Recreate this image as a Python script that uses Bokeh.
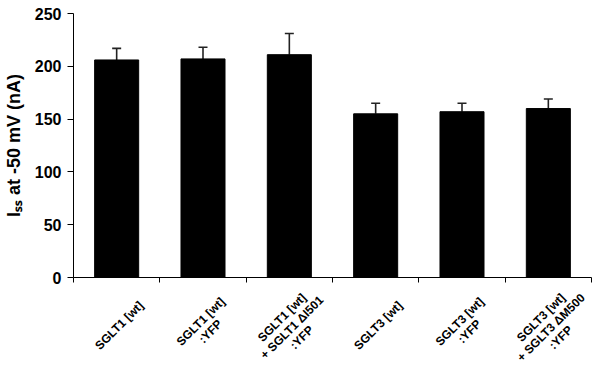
from bokeh.plotting import figure
from bokeh.layouts import column
from bokeh.models import ColumnDataSource, Whisker, TeeHead, FixedTicker, Range1d
from bokeh.embed import file_html
from bokeh.resources import INLINE
from bokeh.core.properties import value
import math

# ---- data ----
categories = [
    "SGLT1 [wt]",
    "SGLT1 [wt]\n:YFP",
    "SGLT1 [wt]\n+ SGLT1 \u0394I501\n:YFP",
    "SGLT3 [wt]",
    "SGLT3 [wt]\n:YFP",
    "SGLT3 [wt]\n+ SGLT3 \u0394M500\n:YFP",
]
means = [206, 207, 211, 155, 157, 160]
errors = [11, 11, 20, 10, 8, 9]
y_ticks = [0, 50, 100, 150, 200, 250]
y_label = "I\u209b\u209b at -50 mV (nA)"

FONT = "Liberation Sans"
n_cat = len(categories)

W, H_PLOT, H_LAB = 593, 292, 79

xs = [i + 0.5 for i in range(n_cat)]
src = ColumnDataSource(dict(
    x=xs, top=means,
    upper=[m + e for m, e in zip(means, errors)],
    lower=means,
))

xr = Range1d(0, n_cat)
p = figure(width=W, height=H_PLOT, output_backend="svg", toolbar_location=None,
           x_range=xr, y_range=Range1d(0, 250),
           min_border_left=73, min_border_right=2, min_border_top=13, min_border_bottom=15)
p.outline_line_color = None
p.grid.grid_line_color = None
p.background_fill_color = "white"
p.border_fill_color = "white"

p.vbar(x="x", top="top", width=0.51, source=src, fill_color="black", line_color="black")
w = Whisker(base="x", upper="upper", lower="lower", source=src,
            line_color="#222222", line_width=1.6,
            upper_head=TeeHead(size=9, line_color="#222222", line_width=1.6),
            lower_head=None)
p.add_layout(w)

# y axis
p.yaxis.ticker = FixedTicker(ticks=y_ticks)
p.yaxis.minor_tick_line_color = None
p.yaxis.major_tick_out = 6
p.yaxis.major_tick_in = 0
p.yaxis.axis_line_color = "black"
p.yaxis.major_tick_line_color = "black"
p.yaxis.major_label_text_font = FONT
p.yaxis.major_label_text_font_style = "bold"
p.yaxis.major_label_text_font_size = "16px"
p.yaxis.major_label_text_color = "black"
p.yaxis.major_label_standoff = 6
p.yaxis.axis_label = y_label
p.yaxis.axis_label_text_font = FONT
p.yaxis.axis_label_text_font_style = "bold"
p.yaxis.axis_label_text_font_size = "18px"
p.yaxis.axis_label_text_color = "black"
p.yaxis.axis_label_standoff = 8

# x axis: ticks at category boundaries, no labels
p.xaxis.ticker = FixedTicker(ticks=list(range(n_cat + 1)))
p.xaxis.major_label_overrides = {i: "" for i in range(n_cat + 1)}
p.xaxis.major_label_text_font_size = "0px"
p.xaxis.major_label_standoff = 0
p.xaxis.minor_tick_line_color = None
p.xaxis.major_tick_out = 5
p.xaxis.major_tick_in = 0
p.xaxis.axis_line_color = "black"
p.xaxis.major_tick_line_color = "black"

# label strip below: rotated category names (y in pixels below the strip top)
n_lines = [c.count("\n") + 1 for c in categories]
lab_src = ColumnDataSource(dict(
    x=[i + 0.53 for i in range(n_cat)],
    y=[-33 - (n - 1) for n in n_lines],
    text=categories,
))
p2 = figure(width=W, height=H_LAB, output_backend="svg", toolbar_location=None,
            x_range=xr, y_range=Range1d(-H_LAB, 0),
            x_axis_location=None, y_axis_location=None,
            min_border_left=73, min_border_right=2, min_border_top=0, min_border_bottom=0)
p2.outline_line_color = None
p2.grid.grid_line_color = None
p2.text(x="x", y="y", text="text", source=lab_src, angle=math.pi / 4,
        text_align="center", text_baseline="middle",
        text_font=value(FONT), text_font_style="bold", text_font_size="12px",
        text_color="black", text_line_height=1.0)

layout = column(p, p2, spacing=0)
open("out.html", "w").write(file_html(layout, INLINE))
